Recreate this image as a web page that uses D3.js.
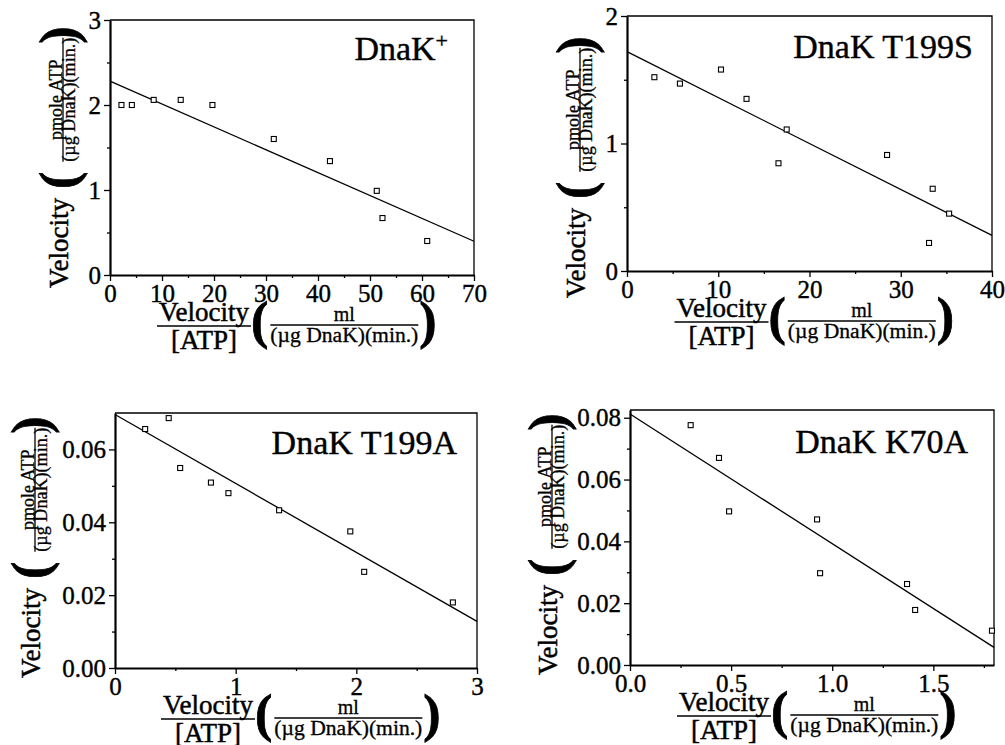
<!DOCTYPE html>
<html>
<head>
<meta charset="utf-8">
<script src="https://cdn.jsdelivr.net/npm/d3@7"></script>
<style>
  body { margin: 0; background: #fff; }
  svg text { font-family: "Liberation Serif", "Times New Roman", Times, serif; fill: #000; }
</style>
</head>
<body>
<script>
// ---- data ----
var titles = ["DnaK", "DnaK T199S", "DnaK T199A", "DnaK K70A"];

var xDomains = [[0, 70], [0, 40], [0, 3], [0, 1.8]];
var yDomains = [[0, 3], [0, 2], [0, 0.07], [0, 0.0825]];

var xTicks = [[0, 10, 20, 30, 40, 50, 60, 70], [0, 10, 20, 30, 40], [0, 1, 2, 3], [0, 0.5, 1.0, 1.5]];
var yTicks = [[0, 1, 2, 3], [0, 1, 2], [0, 0.02, 0.04, 0.06], [0, 0.02, 0.04, 0.06, 0.08]];
var xMinor = [[5, 15, 25, 35, 45, 55, 65], [5, 15, 25, 35], [0.5, 1.5, 2.5], [0.25, 0.75, 1.25, 1.75]];
var yMinor = [[0.5, 1.5, 2.5], [0.5, 1.5], [0.01, 0.03, 0.05], [0.01, 0.03, 0.05, 0.07]];
var xFormats = ["d", "d", "d", ".1f"];
var yFormats = ["d", "d", ".2f", ".2f"];

// velocity/[ATP] (x) and velocity (y)
var wtX = [2.2, 4.2, 8.4, 13.6, 19.7, 31.5, 42.3, 51.3, 52.4, 61.0];
var wtY = [2.0, 2.0, 2.06, 2.06, 2.0, 1.60, 1.34, 0.99, 0.67, 0.40];
var t199sX = [3.0, 5.8, 10.3, 13.1, 16.6, 17.5, 28.5, 33.1, 33.5, 35.3];
var t199sY = [1.52, 1.47, 1.58, 1.35, 0.845, 1.11, 0.91, 0.22, 0.645, 0.45];
var t199aX = [0.25, 0.445, 0.54, 0.795, 0.94, 1.36, 1.95, 2.065, 2.80];
var t199aY = [0.0656, 0.0686, 0.0549, 0.0509, 0.048, 0.0433, 0.0375, 0.0264, 0.018];
var k70aX = [0.30, 0.44, 0.49, 0.925, 0.94, 1.37, 1.41, 1.79];
var k70aY = [0.0776, 0.067, 0.0497, 0.0471, 0.0297, 0.0262, 0.0178, 0.0111];

// fitted lines: intercept and slope
var fitIntercept = [2.28, 1.72, 0.0696, 0.0812];
var fitSlope = [-0.0269, -0.036, -0.01893, -0.04194];

var seriesX = [wtX, t199sX, t199aX, k70aX];
var seriesY = [wtY, t199sY, t199aY, k70aY];

// ---- layout ----
var serif = '"Liberation Serif", "Times New Roman", Times, serif';
var frames = [
  {l: 110, t: 20, r: 474, b: 275},
  {l: 627, t: 16, r: 992, b: 271},
  {l: 115, t: 413, r: 477, b: 668},
  {l: 630, t: 410, r: 994, b: 665}
];
var yLabPos = [[68, 288], [585, 298], [40, 678], [557, 675]];
var titlePos = [[448, 60], [973, 58], [457, 454], [968, 453]];

var svg = d3.select("body").append("svg")
  .attr("width", 1005).attr("height", 745)
  .style("font-family", serif);

function ink(sel, w) {
  return sel.style("font-family", serif).attr("stroke", "#000").attr("stroke-width", w);
}

function label(g, o) {
  var v = ink(g.append("text").attr("x", 0).attr("y", 0)
    .style("font-size", "27px").text("Velocity"), 0.5);
  var w1 = v.node().getComputedTextLength();
  if (o.atp) {
    g.append("line").attr("x1", -2).attr("x2", w1 + 2).attr("y1", 5).attr("y2", 5)
      .attr("stroke", "#000").attr("stroke-width", 1.6);
    ink(g.append("text").attr("x", w1 / 2).attr("y", 28).attr("text-anchor", "middle")
      .style("font-size", "27px").text("[ATP]"), 0.5);
  }
  var p1 = ink(g.append("text").attr("x", w1 + o.gap1).attr("y", o.barY + 13)
    .style("font-size", "52px").style("font-weight", "bold").text("("), 0.8);
  var pw = p1.node().getComputedTextLength();
  var fx = w1 + o.gap1 + pw + o.gap2;
  ink(g.append("text").attr("x", fx + o.denW / 2).attr("y", o.barY + o.numDy)
    .attr("text-anchor", "middle").style("font-size", o.fs + "px").text(o.num), 0.3);
  g.append("line").attr("x1", fx).attr("x2", fx + o.denW)
    .attr("y1", o.barY).attr("y2", o.barY)
    .attr("stroke", "#000").attr("stroke-width", 1.3);
  ink(g.append("text").attr("x", fx).attr("y", o.barY + o.denDy)
    .attr("textLength", o.denW).attr("lengthAdjust", "spacingAndGlyphs")
    .style("font-size", o.fs + "px").text("(\u00b5g DnaK)(min.)"), 0.3);
  ink(g.append("text").attr("x", fx + o.denW + o.gap3).attr("y", o.barY + 13)
    .style("font-size", "52px").style("font-weight", "bold").text(")"), 0.8);
}

frames.forEach(function(f, i) {
  var x = d3.scaleLinear().domain(xDomains[i]).range([f.l, f.r]);
  var y = d3.scaleLinear().domain(yDomains[i]).range([f.b, f.t]);
  var g = svg.append("g");

  // frame (top and right)
  g.append("path")
    .attr("d", "M" + f.l + "," + f.t + "H" + f.r + "V" + f.b)
    .attr("fill", "none").attr("stroke", "#000").attr("stroke-width", 1.3);

  var xAxis = d3.axisBottom(x).tickValues(xTicks[i]).tickSize(6).tickSizeOuter(0)
    .tickFormat(d3.format(xFormats[i]));
  var yAxis = d3.axisLeft(y).tickValues(yTicks[i]).tickSize(6).tickSizeOuter(0)
    .tickFormat(d3.format(yFormats[i]));

  var gx = g.append("g").attr("transform", "translate(0," + f.b + ")").call(xAxis);
  g.append("g").attr("transform", "translate(0," + f.b + ")")
    .call(d3.axisBottom(x).tickValues(xMinor[i]).tickSize(3).tickSizeOuter(0).tickFormat(""))
    .select(".domain").remove();
  var gy = g.append("g").attr("transform", "translate(" + f.l + ",0)").call(yAxis);
  g.append("g").attr("transform", "translate(" + f.l + ",0)")
    .call(d3.axisLeft(y).tickValues(yMinor[i]).tickSize(3).tickSizeOuter(0).tickFormat(""))
    .select(".domain").remove();

  [gx, gy].forEach(function(a) {
    a.attr("font-family", serif).attr("font-size", 25);
    a.select(".domain").attr("stroke-width", 2.2);
    ink(a.selectAll("text").style("font-size", "25px"), 0.4);
  });
  g.selectAll(".tick line").attr("stroke-width", 1.3);

  // fitted line
  var xd = xDomains[i];
  var fit = xd.map(function(v) { return [v, fitIntercept[i] + fitSlope[i] * v]; });
  g.append("path")
    .attr("d", d3.line().x(function(d) { return x(d[0]); }).y(function(d) { return y(d[1]); })(fit))
    .attr("fill", "none").attr("stroke", "#000").attr("stroke-width", 1.3);

  // points
  g.selectAll("rect.pt").data(d3.zip(seriesX[i], seriesY[i])).enter().append("rect")
    .attr("class", "pt")
    .attr("x", function(d) { return x(d[0]) - 2.5; })
    .attr("y", function(d) { return y(d[1]) - 2.5; })
    .attr("width", 5).attr("height", 5)
    .attr("fill", "#fff").attr("stroke", "#000").attr("stroke-width", 1.1);

  // title
  var t = ink(g.append("text").attr("x", titlePos[i][0]).attr("y", titlePos[i][1])
    .attr("text-anchor", "end").style("font-size", "34px").text(titles[i]), 0.4);
  if (i === 0) {
    t.append("tspan").attr("dy", -12).style("font-size", "22px").text("+");
  }

  // x-axis label
  var cx = (f.l + f.r) / 2 + 5;
  label(svg.append("g").attr("transform", "translate(" + (cx - 138) + "," + (f.b + 46) + ")"),
    {atp: true, gap1: 2, gap2: 2, gap3: 1, barY: 4, numDy: -4, denDy: 17, denW: 148, fs: 20, num: "ml"});

  // y-axis label (rotated)
  label(svg.append("g").attr("transform",
      "translate(" + yLabPos[i][0] + "," + yLabPos[i][1] + ") rotate(-90)"),
    {atp: false, gap1: 9, gap2: 10, gap3: -6, barY: -5, numDy: -1, denDy: 12, denW: 124, fs: 18, num: "pmole ATP"});
});
</script>
</body>
</html>
